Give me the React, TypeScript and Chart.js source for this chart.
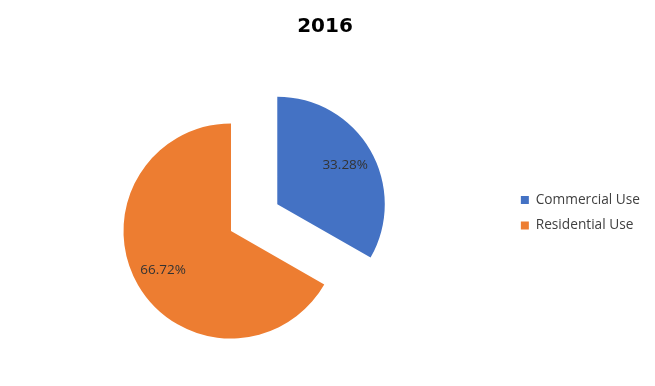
import React, { useEffect, useRef } from 'react';
import { Chart, registerables } from 'chart.js';

Chart.register(...registerables);

// ---- data ----
const chartTitle = '2016';
const categories = ['Commercial Use', 'Residential Use'];
const shares = [33.28, 66.72];

// ---- styles ----
const sliceColors = ['#4472C4', '#ED7D31'];
const explodeDistance = [53.5, 0];
const PIE_CENTER_X = 231;
const PIE_CENTER_Y = 231;
const PIE_RADIUS = 107.5;
const LABEL_RADIUS_RATIO = 0.73;
const TEXT_FONT = "'Open Sans', sans-serif";

// Place the plot area (pie box) where the reference has it.
const plotAreaPlugin = {
  id: 'plotArea',
  afterLayout(chart: any) {
    const a = chart.chartArea;
    a.left = PIE_CENTER_X - PIE_RADIUS;
    a.right = PIE_CENTER_X + PIE_RADIUS;
    a.top = PIE_CENTER_Y - PIE_RADIUS;
    a.bottom = PIE_CENTER_Y + PIE_RADIUS;
    a.width = 2 * PIE_RADIUS;
    a.height = 2 * PIE_RADIUS;
  },
};

// Draw arcs with an "exploded" offset along each slice's bisector.
const explodePlugin = {
  id: 'explode',
  beforeDatasetDraw(chart: any, args: any) {
    const ctx = chart.ctx;
    args.meta.data.forEach((arc: any, i: number) => {
      const d = explodeDistance[i] || 0;
      const mid = (arc.startAngle + arc.endAngle) / 2;
      ctx.save();
      ctx.translate(Math.cos(mid) * d, Math.sin(mid) * d);
      arc.draw(ctx);
      ctx.restore();
    });
    return false;
  },
};

// Percentage labels inside slices.
const pctLabelPlugin = {
  id: 'pctLabels',
  afterDatasetsDraw(chart: any) {
    const ctx = chart.ctx;
    const meta = chart.getDatasetMeta(0);
    const data = chart.data.datasets[0].data as number[];
    const total = data.reduce((s, v) => s + v, 0);
    ctx.save();
    ctx.font = `13.5px ${TEXT_FONT}`;
    ctx.fillStyle = '#333333';
    ctx.textAlign = 'center';
    ctx.textBaseline = 'middle';
    meta.data.forEach((arc: any, i: number) => {
      const mid = (arc.startAngle + arc.endAngle) / 2;
      const dist = (explodeDistance[i] || 0) + arc.outerRadius * LABEL_RADIUS_RATIO;
      const x = arc.x + Math.cos(mid) * dist;
      const y = arc.y + Math.sin(mid) * dist;
      ctx.fillText(((data[i] / total) * 100).toFixed(2) + '%', x, y);
    });
    ctx.restore();
  },
};

export default function App() {
  const canvasRef = useRef<HTMLCanvasElement | null>(null);

  useEffect(() => {
    if (!canvasRef.current) return;
    const chart = new Chart(canvasRef.current, {
      type: 'pie',
      data: {
        labels: categories,
        datasets: [
          {
            data: shares,
            backgroundColor: sliceColors,
            borderWidth: 0,
          },
        ],
      },
      options: {
        responsive: false,
        animation: false,
        events: [],
        layout: { padding: { left: 0, right: 5, top: 0, bottom: 8.5 } },
        plugins: {
          title: {
            display: true,
            text: chartTitle,
            color: '#000000',
            font: { family: "'DejaVu Sans', sans-serif", size: 20, weight: 'bold' },
            padding: { top: 15, bottom: 9 },
          },
          legend: {
            position: 'right',
            fullSize: false,
            labels: {
              boxWidth: 8,
              boxHeight: 8,
              padding: 12,
              color: '#404040',
              font: { family: TEXT_FONT, size: 13.7 },
            },
          },
          tooltip: { enabled: false },
        },
      } as any,
      plugins: [plotAreaPlugin, explodePlugin, pctLabelPlugin],
    });
    return () => chart.destroy();
  }, []);

  return (
    <div style={{ position: 'absolute', left: 0, top: 0, width: 655, height: 386, background: '#ffffff' }}>
      <canvas ref={canvasRef} width={655} height={386} style={{ display: 'block' }} />
    </div>
  );
}
